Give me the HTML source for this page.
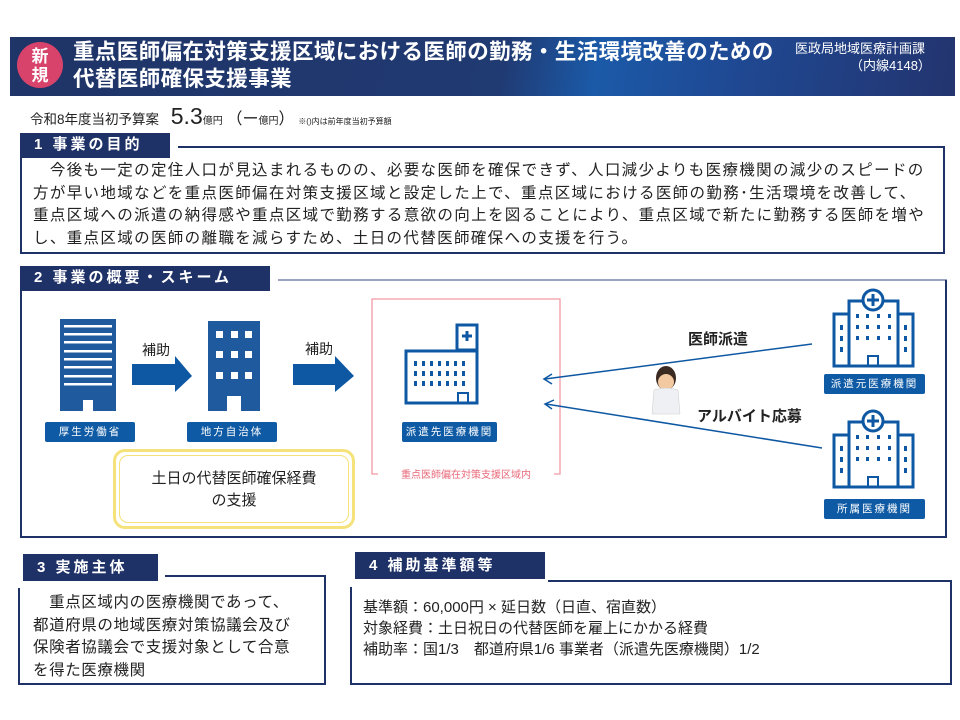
<!DOCTYPE html>
<html><head><meta charset="utf-8">
<style>
*{margin:0;padding:0;box-sizing:border-box}
body{width:960px;height:720px;background:#fff;position:relative;overflow:hidden;font-family:"Liberation Sans","Noto Sans CJK JP",sans-serif;color:#222}
.a{position:absolute}
.hdr{left:10px;top:37px;width:945px;height:59px;background:linear-gradient(100deg,#1f3467 0%,#203a72 52%,#1b5aa8 62%,#1f4a95 75%,#23346f 100%)}
.lab{background:#1f3268;color:#fff;font-weight:bold;font-size:15px;letter-spacing:3px;padding-left:14px;line-height:24px}
.box{border:2px solid #1f3268;border-top:none}
.t1{font-size:15px;line-height:22.5px;color:#222}
.tag{background:#0e5aa4;color:#fff;font-size:10.5px;letter-spacing:2px;text-align:center;border-radius:2px;line-height:20px}
</style></head><body>
<div class="a hdr"></div>
<div class="a" style="left:17px;top:42px;width:46px;height:46px;border-radius:50%;background:#d7436a;color:#fff;font-weight:bold;font-size:17px;line-height:19px;text-align:center;padding-top:5px">新<br>規</div>
<div class="a" style="left:73px;top:39px;color:#fff;font-weight:bold;font-size:21.5px;line-height:27px;white-space:nowrap;letter-spacing:0.4px">重点医師偏在対策支援区域における医師の勤務・生活環境改善のための<br>代替医師確保支援事業</div>
<div class="a" style="left:795px;top:40px;color:#fff;font-size:13px;line-height:17px;white-space:nowrap">医政局地域医療計画課<br><span style="padding-left:55px">（内線4148）</span></div>

<div class="a" style="left:30px;top:104px;font-size:13.5px;white-space:nowrap;line-height:24px">令和8年度当初予算案 <span style="font-size:23px;padding-left:8px">5.3</span><span style="font-size:10px">億円</span> <span style="font-size:16px">（ー</span><span style="font-size:10px">億円</span><span style="font-size:16px">）</span> <span style="font-size:8px">※()内は前年度当初予算額</span></div>

<!-- section 1 -->
<div class="a lab" style="left:20px;top:133px;width:150px;height:25px">1 事業の目的</div>
<div class="a" style="left:178px;top:146px;width:767px;height:2px;background:#1f3268"></div>
<div class="a box" style="left:20px;top:146px;width:925px;height:108px;border-top:none"></div>
<div class="a t1" style="left:33px;top:160px;white-space:nowrap;font-size:15.5px;letter-spacing:1.35px;line-height:22.5px">　今後も一定の定住人口が見込まれるものの、必要な医師を確保できず、人口減少よりも医療機関の減少のスピードの<br>方が早い地域などを重点医師偏在対策支援区域と設定した上で、重点区域における医師の勤務･生活環境を改善して、<br>重点区域への派遣の納得感や重点区域で勤務する意欲の向上を図ることにより、重点区域で新たに勤務する医師を増や<br>し、重点区域の医師の離職を減らすため、土日の代替医師確保への支援を行う。</div>

<!-- section 2 -->
<div class="a lab" style="left:20px;top:266px;width:250px;height:25px">2 事業の概要・スキーム</div>
<div class="a" style="left:278px;top:279px;width:669px;height:2px;background:#9aa3c0"></div>
<div class="a" style="left:20px;top:280px;width:927px;height:258px;border:2px solid #1f3268;border-top:none"></div>

<svg class="a" style="left:0;top:0" width="960" height="720">
<rect x="60" y="319" width="56" height="92" fill="#1f5a9e"/>
<g fill="#fff"><rect x="64" y="325" width="48" height="2.5"/><rect x="64" y="333" width="48" height="2.5"/><rect x="64" y="341" width="48" height="2.5"/><rect x="64" y="350" width="48" height="2.5"/><rect x="64" y="358" width="48" height="2.5"/><rect x="64" y="366" width="48" height="2.5"/><rect x="64" y="375" width="48" height="2.5"/><rect x="64" y="383" width="48" height="2.5"/><rect x="83" y="400" width="10" height="11"/></g>
<rect x="208" y="321" width="52" height="90" fill="#1f5a9e"/>
<g fill="#fff"><rect x="216" y="331" width="7" height="7"/><rect x="231" y="331" width="7" height="7"/><rect x="245" y="331" width="7" height="7"/><rect x="216" y="351" width="7" height="7"/><rect x="231" y="351" width="7" height="7"/><rect x="245" y="351" width="7" height="7"/><rect x="216" y="372" width="7" height="7"/><rect x="231" y="372" width="7" height="7"/><rect x="245" y="372" width="7" height="7"/><rect x="227" y="396" width="14" height="15"/></g>
<polygon points="132,364 175,364 175,356 192,376 175,392 175,385 132,385" fill="#0e58a3"/>
<polygon points="293,364 335,364 335,356 354,376 335,392 335,385 293,385" fill="#0e58a3"/>
<text x="142" y="355" font-size="14" fill="#222">補助</text>
<text x="305" y="354" font-size="14" fill="#222">補助</text>
<path d="M378,474 L372,474 L372,299 L560,299 L560,474 L554,474" fill="none" stroke="#f29aa5" stroke-width="1.3"/>
<text x="466" y="478" font-size="10" fill="#e86a7a" text-anchor="middle">重点医師偏在対策支援区域内</text>
<rect x="406" y="351" width="71" height="52" fill="none" stroke="#0e58a3" stroke-width="3"/>
<rect x="457" y="325" width="20" height="25" fill="#fff" stroke="#0e58a3" stroke-width="3"/>
<path d="M467,331v10M462,336h10" stroke="#0e58a3" stroke-width="3"/>
<g fill="#0e58a3">
<rect x="414" y="361" width="3" height="5"/><rect x="422" y="361" width="3" height="5"/><rect x="430" y="361" width="3" height="5"/><rect x="438" y="361" width="3" height="5"/><rect x="446" y="361" width="3" height="5"/><rect x="454" y="361" width="3" height="5"/><rect x="462" y="361" width="3" height="5"/>
<rect x="414" y="371" width="3" height="5"/><rect x="422" y="371" width="3" height="5"/><rect x="430" y="371" width="3" height="5"/><rect x="438" y="371" width="3" height="5"/><rect x="446" y="371" width="3" height="5"/><rect x="454" y="371" width="3" height="5"/><rect x="462" y="371" width="3" height="5"/>
<rect x="414" y="381" width="3" height="5"/><rect x="422" y="381" width="3" height="5"/><rect x="430" y="381" width="3" height="5"/><rect x="438" y="381" width="3" height="5"/><rect x="446" y="381" width="3" height="5"/><rect x="454" y="381" width="3" height="5"/><rect x="462" y="381" width="3" height="5"/>
</g>
<rect x="458" y="393" width="10" height="10" fill="none" stroke="#0e58a3" stroke-width="2"/>
<line x1="812" y1="344" x2="545" y2="379" stroke="#0e58a3" stroke-width="1.5"/>
<path d="M552,374 L544,379 L552,384" fill="none" stroke="#0e58a3" stroke-width="1.5"/>
<line x1="822" y1="448" x2="546" y2="404" stroke="#0e58a3" stroke-width="1.5"/>
<path d="M554,400 L545,404 L552,409" fill="none" stroke="#0e58a3" stroke-width="1.5"/>
<text x="688" y="344" font-size="15" font-weight="bold" fill="#222">医師派遣</text>
<text x="697" y="421" font-size="15" font-weight="bold" fill="#222">アルバイト応募</text>
<ellipse cx="666" cy="378" rx="10" ry="12" fill="#3a2a22"/>
<ellipse cx="666" cy="382" rx="8" ry="8" fill="#f2c9a0"/>
<path d="M654,390 Q666,386 678,390 L680,414 L652,414 Z" fill="#eef0f4" stroke="#ccc" stroke-width="0.5"/>
<g fill="none" stroke="#0e58a3" stroke-width="3">
<rect x="834" y="314" width="79" height="52"/>
<rect x="849" y="301" width="49" height="65" fill="#fff"/>
<circle cx="873" cy="300" r="10" fill="#fff"/>
<path d="M873,294v12M867,300h12" stroke-width="3"/>
<rect x="868" y="356" width="10" height="10" stroke-width="2"/>
</g>
<g fill="#0e58a3">
<rect x="840" y="325" width="3" height="5"/><rect x="840" y="336" width="3" height="5"/><rect x="840" y="347" width="3" height="5"/>
<rect x="904" y="325" width="3" height="5"/><rect x="904" y="336" width="3" height="5"/><rect x="904" y="347" width="3" height="5"/>
<rect x="856" y="314" width="3" height="4"/><rect x="866" y="314" width="3" height="4"/><rect x="877" y="314" width="3" height="4"/><rect x="888" y="314" width="3" height="4"/>
<rect x="856" y="325" width="3" height="4"/><rect x="866" y="325" width="3" height="4"/><rect x="877" y="325" width="3" height="4"/><rect x="888" y="325" width="3" height="4"/>
<rect x="856" y="336" width="3" height="4"/><rect x="866" y="336" width="3" height="4"/><rect x="877" y="336" width="3" height="4"/><rect x="888" y="336" width="3" height="4"/>
</g>
<g transform="translate(0,121)">
<g fill="none" stroke="#0e58a3" stroke-width="3">
<rect x="834" y="314" width="79" height="52"/>
<rect x="849" y="301" width="49" height="65" fill="#fff"/>
<circle cx="873" cy="300" r="10" fill="#fff"/>
<path d="M873,294v12M867,300h12" stroke-width="3"/>
<rect x="868" y="356" width="10" height="10" stroke-width="2"/>
</g>
<g fill="#0e58a3">
<rect x="840" y="325" width="3" height="5"/><rect x="840" y="336" width="3" height="5"/><rect x="840" y="347" width="3" height="5"/>
<rect x="904" y="325" width="3" height="5"/><rect x="904" y="336" width="3" height="5"/><rect x="904" y="347" width="3" height="5"/>
<rect x="856" y="314" width="3" height="4"/><rect x="866" y="314" width="3" height="4"/><rect x="877" y="314" width="3" height="4"/><rect x="888" y="314" width="3" height="4"/>
<rect x="856" y="325" width="3" height="4"/><rect x="866" y="325" width="3" height="4"/><rect x="877" y="325" width="3" height="4"/><rect x="888" y="325" width="3" height="4"/>
<rect x="856" y="336" width="3" height="4"/><rect x="866" y="336" width="3" height="4"/><rect x="877" y="336" width="3" height="4"/><rect x="888" y="336" width="3" height="4"/>
</g></g>
</svg>
<div class="a tag" style="left:45px;top:422px;width:90px">厚生労働省</div>
<div class="a tag" style="left:187px;top:422px;width:90px">地方自治体</div>
<div class="a tag" style="left:402px;top:422px;width:95px">派遣先医療機関</div>
<div class="a tag" style="left:824px;top:374px;width:101px">派遣元医療機関</div>
<div class="a tag" style="left:824px;top:499px;width:101px">所属医療機関</div>
<div class="a" style="left:113px;top:449px;width:242px;height:80px;border:3px solid #f5e27a;border-radius:12px;padding:3px"><div style="width:100%;height:100%;border:1.5px solid #f5e27a;border-radius:9px;text-align:center;font-size:15px;line-height:22px;padding-top:12px">土日の代替医師確保経費<br>の支援</div></div>

<!-- section 3 -->
<div class="a lab" style="left:23px;top:554px;width:135px;height:27px;line-height:27px">3 実施主体</div>
<div class="a" style="left:165px;top:575px;width:161px;height:2px;background:#1f3268"></div>
<div class="a" style="left:18px;top:588px;width:308px;height:97px;border:2px solid #1f3268;border-top:none"></div>
<div class="a" style="left:324px;top:575px;width:2px;height:14px;background:#1f3268"></div>
<div class="a t1" style="left:33px;top:592px;white-space:nowrap;font-size:15.5px;letter-spacing:0.6px;line-height:22.5px">　重点区域内の医療機関であって、<br>都道府県の地域医療対策協議会及び<br>保険者協議会で支援対象として合意<br>を得た医療機関</div>

<!-- section 4 -->
<div class="a lab" style="left:355px;top:552px;width:190px;height:27px;line-height:27px">4 補助基準額等</div>
<div class="a" style="left:548px;top:580px;width:404px;height:2px;background:#1f3268"></div>
<div class="a" style="left:350px;top:587px;width:602px;height:98px;border:2px solid #1f3268;border-top:none"></div>
<div class="a" style="left:950px;top:580px;width:2px;height:8px;background:#1f3268"></div>
<div class="a t1" style="left:363px;top:597px;width:580px;line-height:21px;white-space:nowrap">基準額：60,000円 × 延日数（日直、宿直数）<br>対象経費：土日祝日の代替医師を雇上にかかる経費<br>補助率：国1/3　都道府県1/6  事業者（派遣先医療機関）1/2</div>
</body></html>
